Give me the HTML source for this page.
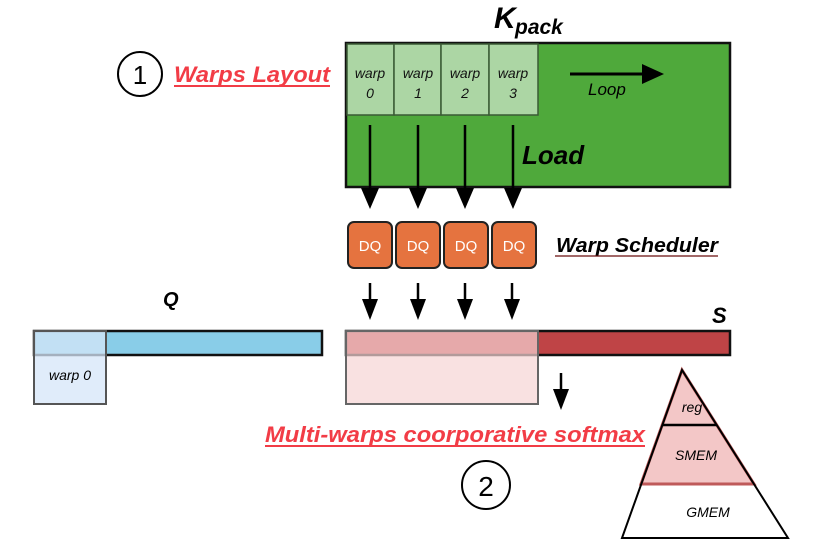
<!DOCTYPE html>
<html><head><meta charset="utf-8"><style>
html,body{margin:0;padding:0;background:#fff;}
svg{display:block;}
text{font-family:"Liberation Sans",sans-serif;}
</style></head><body>
<svg width="816" height="552" viewBox="0 0 816 552" xmlns="http://www.w3.org/2000/svg">
<!-- K_pack title -->
<text x="494" y="28" font-size="30" font-weight="bold" font-style="italic">K</text>
<text x="515" y="34" font-size="21" font-weight="bold" font-style="italic">pack</text>
<!-- circle 1 -->
<circle cx="140" cy="74" r="22" fill="#fff" stroke="#000" stroke-width="2"/>
<text x="140" y="84" font-size="26" text-anchor="middle">1</text>
<text x="174" y="82" font-size="22" font-weight="bold" font-style="italic" fill="#f23c46" textLength="156" lengthAdjust="spacingAndGlyphs">Warps Layout</text>
<line x1="174" y1="86" x2="330" y2="86" stroke="#f23c46" stroke-width="2"/>
<!-- green rect -->
<rect x="346" y="43" width="384" height="144" fill="#4fa93b" stroke="#111" stroke-width="2.5"/>
<g fill="#acd6a4" stroke="#3a5a34" stroke-width="1.5">
<rect x="347" y="44" width="47" height="71"/><rect x="394" y="44" width="47" height="71"/>
<rect x="441" y="44" width="48" height="71"/><rect x="489" y="44" width="49" height="71"/>
</g>
<g font-size="14" font-style="italic" text-anchor="middle" fill="#111">
<text x="370" y="78">warp</text><text x="370" y="98">0</text>
<text x="418" y="78">warp</text><text x="418" y="98">1</text>
<text x="465" y="78">warp</text><text x="465" y="98">2</text>
<text x="513" y="78">warp</text><text x="513" y="98">3</text>
</g>
<line x1="570" y1="74" x2="648" y2="74" stroke="#000" stroke-width="3"/>
<path d="M642,64 L664,74 L642,84 Z" fill="#000"/>
<text x="588" y="95" font-size="17" font-style="italic">Loop</text>
<text x="522" y="164" font-size="26" font-weight="bold" font-style="italic">Load</text>
<g stroke="#000" stroke-width="2.5">
<line x1="370" y1="125" x2="370" y2="195"/><line x1="418" y1="125" x2="418" y2="195"/>
<line x1="465" y1="125" x2="465" y2="195"/><line x1="513" y1="125" x2="513" y2="195"/>
<line x1="370" y1="283" x2="370" y2="305"/><line x1="418" y1="283" x2="418" y2="305"/>
<line x1="465" y1="283" x2="465" y2="305"/><line x1="512" y1="283" x2="512" y2="305"/>
<line x1="561" y1="373" x2="561" y2="395"/>
</g>
<g fill="#000">
<path d="M361,188 L379,188 L370,209 Z"/><path d="M409,188 L427,188 L418,209 Z"/>
<path d="M456,188 L474,188 L465,209 Z"/><path d="M504,188 L522,188 L513,209 Z"/>
<path d="M362,299 L378,299 L370,320 Z"/><path d="M410,299 L426,299 L418,320 Z"/>
<path d="M457,299 L473,299 L465,320 Z"/><path d="M504,299 L520,299 L512,320 Z"/>
<path d="M553,389 L569,389 L561,410 Z"/>
</g>
<!-- DQ -->
<g fill="#e5733f" stroke="#222" stroke-width="2">
<rect x="348" y="222" width="44" height="46" rx="6"/><rect x="396" y="222" width="44" height="46" rx="6"/>
<rect x="444" y="222" width="44" height="46" rx="6"/><rect x="492" y="222" width="44" height="46" rx="6"/>
</g>
<g font-size="15" fill="#fff" text-anchor="middle">
<text x="370" y="251">DQ</text><text x="418" y="251">DQ</text><text x="466" y="251">DQ</text><text x="514" y="251">DQ</text>
</g>
<text x="556" y="252" font-size="20" font-weight="bold" font-style="italic" textLength="162" lengthAdjust="spacingAndGlyphs">Warp Scheduler</text>
<line x1="555" y1="256" x2="718" y2="256" stroke="#6a0f0f" stroke-width="1.2"/>
<!-- Q -->
<text x="163" y="306" font-size="20" font-weight="bold" font-style="italic">Q</text>
<rect x="34" y="331" width="288" height="24" fill="#89cde8" stroke="#111" stroke-width="2.5"/>
<rect x="34" y="331" width="72" height="73" fill="#d6e6f8" fill-opacity="0.75" stroke="#555" stroke-width="2"/>
<text x="70" y="380" font-size="14" font-style="italic" text-anchor="middle">warp 0</text>
<!-- S -->
<text x="712" y="323" font-size="22" font-weight="bold" font-style="italic">S</text>
<rect x="346" y="331" width="384" height="24" fill="#bf4446" stroke="#111" stroke-width="2.5"/>
<rect x="346" y="331" width="192" height="73" fill="#f6d4d4" fill-opacity="0.7" stroke="#666" stroke-width="2"/>
<!-- softmax -->
<text x="265" y="442" font-size="22" font-weight="bold" font-style="italic" fill="#f23c46" textLength="380" lengthAdjust="spacingAndGlyphs">Multi-warps coorporative softmax</text>
<line x1="265" y1="446" x2="645" y2="446" stroke="#f23c46" stroke-width="2"/>
<circle cx="486" cy="485" r="24" fill="#fff" stroke="#000" stroke-width="2"/>
<text x="486" y="496" font-size="28" text-anchor="middle">2</text>
<!-- pyramid -->
<path d="M682,370 L641,484 L754,484 Z" fill="#f3c7c7" stroke="#bf5a5a" stroke-width="3"/>
<path d="M682,370 L622,538 L788,538 Z" fill="none" stroke="#000" stroke-width="2"/>
<line x1="662" y1="425" x2="717" y2="425" stroke="#000" stroke-width="2.5"/>
<g font-size="14" font-style="italic" text-anchor="middle">
<text x="692" y="412">reg</text><text x="696" y="460">SMEM</text><text x="708" y="517">GMEM</text>
</g>
</svg>
</body></html>
